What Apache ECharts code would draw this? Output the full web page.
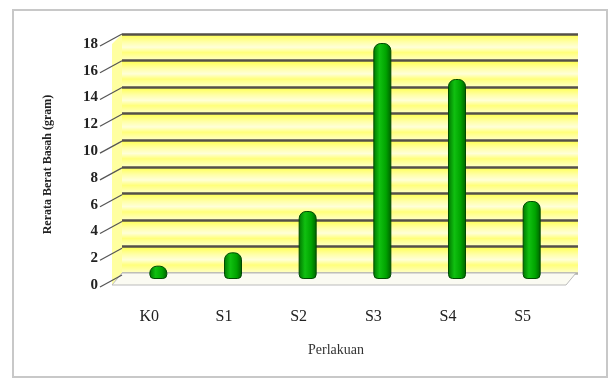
<!DOCTYPE html>
<html>
<head>
<meta charset="utf-8">
<script src="https://cdn.jsdelivr.net/npm/echarts@6/dist/echarts.min.js"></script>
<style>
  html, body { margin: 0; padding: 0; background: #fff; }
  #chart { width: 610px; height: 379px; }
</style>
</head>
<body>
<div id="chart"></div>
<script>
// data
const categories = ['K0', 'S1', 'S2', 'S3', 'S4', 'S5']
const beratBasah = [1.0, 2.0, 5.1, 17.7, 15.0, 5.85]
const yTicks = [0, 2, 4, 6, 8, 10, 12, 14, 16, 18]

const serif = '"Liberation Serif", "DejaVu Serif", serif'
const chart = echarts.init(document.getElementById('chart'))

const bandColor = new echarts.graphic.LinearGradient(0, 0, 0, 1, [
  { offset: 0, color: '#ffff4a' },
  { offset: 0.3, color: '#ffffa8' },
  { offset: 0.5, color: '#ffffd8' },
  { offset: 0.7, color: '#ffff7a' },
  { offset: 1, color: '#ffffc8' }
])
// first line (zero) is the light floor edge, rest are dark
const gridLineColors = yTicks.map((v, i) => i === 0 ? '#b0b0a8' : '#555048')

chart.setOption({
  animation: false,
  graphic: [{
    type: 'rect',
    shape: { x: 13, y: 10, width: 594, height: 367 },
    style: { fill: 'none', stroke: '#c8c8c8', lineWidth: 2 },
    z: -10
  }],
  grid: [
    // back wall
    { left: 122, top: 34, right: 32, bottom: 106 },
    // front axis (labels)
    { left: 112, top: 44, right: 50, bottom: 94 },
    // bars (mid depth)
    { left: 121, top: 39, right: 41, bottom: 100 }
  ],
  xAxis: [
    { gridIndex: 0, type: 'category', data: categories, show: false },
    {
      gridIndex: 1, type: 'category', data: categories,
      axisLine: { show: false }, axisTick: { show: false },
      axisLabel: { margin: 24, fontFamily: serif, fontSize: 16, color: '#222' },
      name: 'Perlakuan', nameLocation: 'middle', nameGap: 58,
      nameTextStyle: { fontFamily: serif, fontSize: 14, color: '#333' }
    },
    { gridIndex: 2, type: 'category', data: categories, show: false }
  ],
  yAxis: [
    {
      gridIndex: 0, type: 'value', min: 0, max: 18, interval: 2,
      axisLine: { show: false }, axisTick: { show: false }, axisLabel: { show: false },
      splitLine: { show: true, lineStyle: { color: gridLineColors, width: 2.5 } },
      splitArea: { show: true, areaStyle: { color: [bandColor] } }
    },
    {
      gridIndex: 1, type: 'value', min: 0, max: 18, interval: 2,
      axisLine: { show: false }, axisTick: { show: false },
      splitLine: { show: false },
      axisLabel: { margin: 14, fontFamily: serif, fontSize: 15, fontWeight: 'bold', color: '#222' },
      name: 'Rerata Berat Basah (gram)', nameLocation: 'middle', nameGap: 58,
      nameTextStyle: { fontFamily: serif, fontSize: 12, fontWeight: 'bold', color: '#222' }
    },
    { gridIndex: 2, type: 'value', min: 0, max: 18, interval: 2, show: false }
  ],
  series: [
    {
      // side wall, floor and slanted ticks joining front axis to back wall
      type: 'custom',
      xAxisIndex: 1, yAxisIndex: 1,
      data: yTicks.map(v => [0, v]),
      z: 1,
      renderItem: function (params, api) {
        const cs = params.coordSys
        const v = api.value(1)
        const y = api.coord([0, v])[1]
        const children = []
        if (v === 0) {
          const yTop = api.coord([0, 18])[1]
          children.push({
            type: 'polygon',
            shape: { points: [[cs.x, y], [cs.x + 10, y - 12], [cs.x + 10, yTop - 10], [cs.x, yTop]] },
            style: { fill: '#ffffa0' }
          })
          children.push({
            type: 'polygon',
            shape: { points: [[cs.x, y], [cs.x + cs.width + 6, y], [cs.x + cs.width + 16, y - 12], [cs.x + 10, y - 12]] },
            style: { fill: '#fbfbf2', stroke: '#bbb', lineWidth: 1 }
          })
        }
        children.push({
          type: 'line',
          shape: { x1: cs.x - 12, y1: y + 2, x2: cs.x + 10, y2: y - 10 },
          style: { stroke: '#555', lineWidth: 1.2 }
        })
        return { type: 'group', children: children }
      }
    },
    {
      type: 'bar',
      xAxisIndex: 2, yAxisIndex: 2,
      data: beratBasah,
      barWidth: 18,
      z: 5,
      itemStyle: {
        color: new echarts.graphic.LinearGradient(0, 0, 1, 0, [
          { offset: 0, color: '#007400' },
          { offset: 0.35, color: '#10c010' },
          { offset: 0.7, color: '#00a400' },
          { offset: 1, color: '#006000' }
        ]),
        borderColor: '#004a00',
        borderWidth: 1,
        borderRadius: [7, 7, 4, 4]
      }
    }
  ]
})
</script>
</body>
</html>
